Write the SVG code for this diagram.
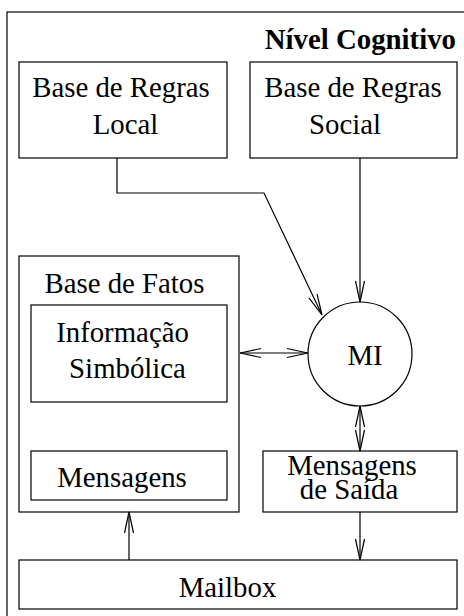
<svg xmlns="http://www.w3.org/2000/svg" width="464" height="616" viewBox="0 0 464 616">
<defs>
<style>
.box{fill:none;stroke:#000;stroke-width:1.2}
.t{font-family:"Liberation Serif","Times New Roman",serif;font-size:28.8px;fill:#000;text-anchor:middle}
.b{font-weight:bold;text-anchor:end}
.c{fill:none;stroke:#000;stroke-width:1.2}
</style>
<marker id="ah" viewBox="-22 -6 24 12" refX="0" refY="0" markerWidth="24" markerHeight="12" markerUnits="userSpaceOnUse" orient="auto-start-reverse">
<path d="M-21,-4.5 L0,0 L-21,4.5" fill="none" stroke="#000" stroke-width="1.2"/>
</marker>
</defs>
<rect width="464" height="616" fill="#fff"/>
<g id="nivel-cognitivo">
<rect class="box" x="7" y="12" width="500" height="700"/>
<text class="t b" x="456" y="49">Nível Cognitivo</text>
</g>
<g id="regras-local">
<rect class="box" x="19" y="62" width="208" height="96"/>
<text class="t" x="121" y="97">Base de Regras</text>
<text class="t" x="125.5" y="134">Local</text>
</g>
<g id="regras-social">
<rect class="box" x="250" y="62" width="207" height="96"/>
<text class="t" x="353" y="97">Base de Regras</text>
<text class="t" x="345" y="134">Social</text>
</g>
<g id="base-fatos">
<rect class="box" x="19" y="256" width="220" height="256"/>
<text class="t" x="124.5" y="293">Base de Fatos</text>
</g>
<g id="info-simbolica">
<rect class="box" x="31" y="305" width="196" height="97"/>
<text class="t" x="122.5" y="342">Informação</text>
<text class="t" x="127.5" y="378">Simbólica</text>
</g>
<g id="mensagens">
<rect class="box" x="31" y="451" width="196" height="49"/>
<text class="t" x="122" y="487">Mensagens</text>
</g>
<g id="mi">
<circle class="box" cx="360" cy="354" r="52"/>
<text class="t" x="365" y="365">MI</text>
</g>
<g id="mensagens-saida">
<rect class="box" x="263" y="451" width="194" height="61"/>
<text class="t" x="352" y="475">Mensagens</text>
<text class="t" x="349" y="499">de Saída</text>
</g>
<g id="mailbox">
<rect class="box" x="19" y="560" width="438" height="49"/>
<text class="t" x="227.5" y="597">Mailbox</text>
</g>
<g id="connectors">
<polyline class="c" points="117,158 117,193 264,193 322,315" marker-end="url(#ah)"/>
<line class="c" x1="360" y1="158" x2="360" y2="302" marker-end="url(#ah)"/>
<line class="c" x1="240" y1="353" x2="308" y2="353" marker-start="url(#ah)" marker-end="url(#ah)"/>
<line class="c" x1="360" y1="406" x2="360" y2="451" marker-start="url(#ah)" marker-end="url(#ah)"/>
<line class="c" x1="360" y1="512" x2="360" y2="560" marker-end="url(#ah)"/>
<line class="c" x1="129" y1="560" x2="129" y2="512" marker-end="url(#ah)"/>
</g>
</svg>
